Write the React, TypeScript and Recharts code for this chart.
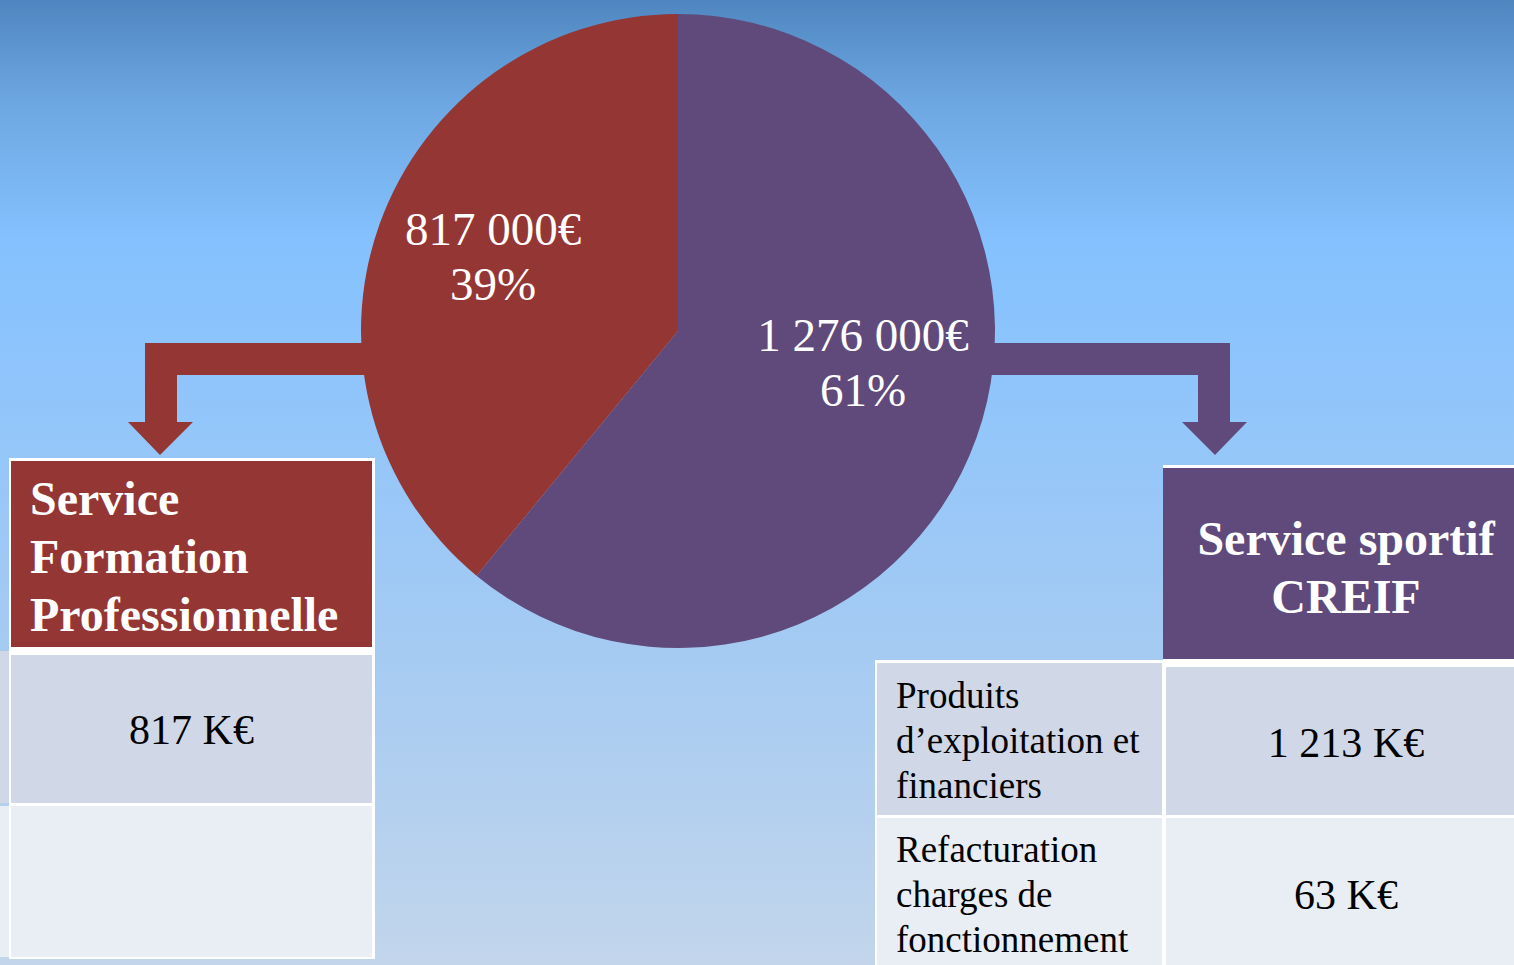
import { Pie, PieChart, Cell } from "recharts";

const SERVICES = ["Service sportif CREIF", "Service Formation Professionnelle"];
const AMOUNTS = [1276000, 817000];
const COLORS = ["#604a7b", "#943634"];

const LEFT_HEADER = ["Service", "Formation", "Professionnelle"];
const LEFT_VALUES = ["817 K€", ""];
const RIGHT_HEADER = ["Service sportif", "CREIF"];
const RIGHT_LABELS = [
  ["Produits", "d’exploitation et", "financiers"],
  ["Refacturation", "charges de", "fonctionnement"],
];
const RIGHT_VALUES = ["1 213 K€", "63 K€"];

const SLICES = SERVICES.map((name, i) => ({ name, value: AMOUNTS[i] }));

const W = 1514;
const H = 965;
const SERIF = "'Liberation Serif', 'Times New Roman', serif";
const GREY = "#d0d8e8";
const LIGHT = "#e9edf4";

const fmt = (v: number) => v.toLocaleString("en-US").replace(/,/g, " ");

const RADIAN = Math.PI / 180;
// labels sit at ~62% of the radius, vertically squashed a bit like PowerPoint does
const renderLabel = (p: any) => {
  const r = p.outerRadius * 0.62;
  const x = p.cx + r * Math.cos(-p.midAngle * RADIAN);
  const y = p.cy + r * 0.8 * Math.sin(-p.midAngle * RADIAN);
  return (
    <text
      x={x}
      y={y}
      fill="#fff"
      textAnchor="middle"
      fontFamily={SERIF}
      fontSize={47}
    >
      <tspan x={x} dy={-33}>{fmt(p.value)}€</tspan>
      <tspan x={x} dy={55}>{Math.round(p.percent * 100)}%</tspan>
    </text>
  );
};

const box = (
  left: number,
  top: number,
  width: number,
  height: number,
  bg: string
): React.CSSProperties => ({
  position: "absolute",
  left,
  top,
  width,
  height,
  background: bg,
});

export default function App() {
  return (
    <div
      style={{
        position: "absolute",
        left: 0,
        top: 0,
        width: W,
        height: H,
        overflow: "hidden",
        fontFamily: SERIF,
        background:
          "linear-gradient(to bottom, #4f86c0 0%, #6ea8e3 11%, #84c1fe 25%, #90c5fb 40%, #a3caf3 65%, #c2d5eb 100%)",
      }}
    >
      {/* arrows, behind the pie */}
      <svg width={W} height={H} style={{ position: "absolute", left: 0, top: 0 }}>
        <polygon
          fill="#943634"
          points="400,343 145,343 145,422 128,422 160,455 193,422 177,422 177,375 400,375"
        />
        <polygon
          fill="#604a7b"
          points="960,343 1230,343 1230,422 1247,422 1215,455 1182,422 1198,422 1198,375 960,375"
        />
      </svg>

      <div style={{ position: "absolute", left: 0, top: 0 }}>
        <PieChart width={W} height={H} margin={{ top: 0, right: 0, bottom: 0, left: 0 }}>
          <Pie
            data={SLICES}
            dataKey="value"
            nameKey="name"
            cx={678}
            cy={331}
            outerRadius={317}
            startAngle={90}
            endAngle={-270}
            stroke="none"
            labelLine={false}
            label={renderLabel}
            isAnimationActive={false}
          >
            {SLICES.map((s, i) => (
              <Cell key={s.name} fill={COLORS[i]} />
            ))}
          </Pie>
        </PieChart>
      </div>

      {/* left table */}
      <div style={box(0, 651, 9, 152, GREY)} />
      <div style={box(0, 806, 9, 151, LIGHT)} />
      <div style={box(9, 458, 366, 501, "#fff")} />
      <div style={box(11, 461, 361, 186, "#943634")} />
      <div
        style={{
          position: "absolute",
          left: 30,
          top: 470,
          color: "#fff",
          fontWeight: "bold",
          fontSize: 48,
          lineHeight: "58px",
          whiteSpace: "nowrap",
        }}
      >
        {LEFT_HEADER.map((t) => (
          <div key={t}>{t}</div>
        ))}
      </div>
      {LEFT_VALUES.map((v, i) => (
        <div
          key={i}
          style={{
            ...box(11, i === 0 ? 655 : 806, 361, i === 0 ? 148 : 151, i === 0 ? GREY : LIGHT),
          }}
        >
          <div
            style={{
              position: "absolute",
              left: 0,
              width: 361,
              top: 50,
              textAlign: "center",
              fontSize: 42,
              lineHeight: "50px",
              color: "#000",
            }}
          >
            {v}
          </div>
        </div>
      ))}

      {/* right table */}
      <div style={box(1163, 465, 360, 500, "#fff")} />
      <div style={box(875, 660, 290, 305, "#fff")} />
      <div style={box(1163, 468, 366, 191, "#604a7b")} />
      <div
        style={{
          position: "absolute",
          left: 1163,
          width: 366,
          top: 510,
          textAlign: "center",
          color: "#fff",
          fontWeight: "bold",
          fontSize: 48,
          lineHeight: "58px",
          whiteSpace: "nowrap",
        }}
      >
        {RIGHT_HEADER.map((t) => (
          <div key={t}>{t}</div>
        ))}
      </div>
      {RIGHT_LABELS.map((lines, i) => {
        const top = i === 0 ? 663 : 818;
        const h = i === 0 ? 152 : 150;
        const bg = i === 0 ? GREY : LIGHT;
        return (
          <div key={i}>
            <div style={box(877, top, 285, h, bg)}>
              <div
                style={{
                  position: "absolute",
                  left: 19,
                  top: i === 0 ? 10 : 9,
                  fontSize: 37,
                  lineHeight: "45px",
                  color: "#000",
                  whiteSpace: "nowrap",
                }}
              >
                {lines.map((l) => (
                  <div key={l}>{l}</div>
                ))}
              </div>
            </div>
            <div style={box(1166, i === 0 ? 667 : 818, 360, i === 0 ? 148 : 150, bg)}>
              <div
                style={{
                  position: "absolute",
                  left: 0,
                  width: 360,
                  top: i === 0 ? 51 : 52,
                  textAlign: "center",
                  fontSize: 42,
                  lineHeight: "50px",
                  color: "#000",
                }}
              >
                {RIGHT_VALUES[i]}
              </div>
            </div>
          </div>
        );
      })}
    </div>
  );
}
